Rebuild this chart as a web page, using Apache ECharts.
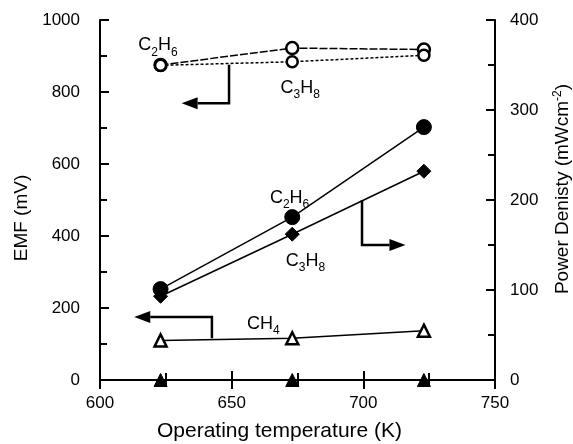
<!DOCTYPE html>
<html><head><meta charset="utf-8">
<script src="https://cdn.jsdelivr.net/npm/echarts@6/dist/echarts.min.js"></script>
<style>html,body{margin:0;padding:0;background:#fff}#c{width:573px;height:444px}</style>
</head><body><div id="c"></div>
<script>
const temps = [623, 673, 723];
const emfC2H6 = [875, 922, 918];
const emfC3H8 = [874, 884, 902];
const emfCH4 = [110, 116, 137];
const pdC2H6 = [101, 181, 281];
const pdC3H8 = [93, 162, 232];
const pdCH4 = [0, 0, 0];
const xTicks = [600, 650, 700, 750];
const emfTicks = [0, 200, 400, 600, 800, 1000];
const pdTicks = [0, 100, 200, 300, 400];

const F = 'Liberation Sans, Arial, Helvetica, sans-serif';
const TF = 17, NF = 19;
const pair = (xs, ys) => xs.map((x, i) => [x, ys[i]]);
const chart = echarts.init(document.getElementById('c'), null, {renderer: 'canvas'});

const axisBase = {
  axisLine: {show: true, lineStyle: {color: '#000', width: 2}},
  axisTick: {show: true, inside: true, length: 9, lineStyle: {color: '#000', width: 2}},
  minorTick: {show: true, splitNumber: 2, length: 7, lineStyle: {color: '#000', width: 2}},
  splitLine: {show: false}
};
const lab = (margin) => ({color: '#000', fontSize: TF, fontFamily: F, margin, formatter: v => String(v)});

function ser(name, data, yIdx, symbol, filled, size, lineType) {
  return {
    name, type: 'line', yAxisIndex: yIdx, data, symbol, symbolSize: size,
    showSymbol: true, clip: false, z: 5,
    lineStyle: {color: '#000', width: 1.5, type: lineType || 'solid'},
    itemStyle: {color: filled ? '#000' : '#fff', borderColor: '#000', borderWidth: filled ? 1 : 2.5}
  };
}

const option = {
  animation: false,
  backgroundColor: '#fff',
  grid: {left: 100, right: 78, top: 20, bottom: 64, containLabel: false, outerBoundsMode: 'none'},
  xAxis: [
    Object.assign({}, axisBase, {
      type: 'value', min: xTicks[0], max: xTicks[xTicks.length - 1], interval: 50,
      name: 'Operating temperature (K)', nameLocation: 'middle', nameGap: 41,
      nameTextStyle: {color: '#000', fontSize: 21, fontFamily: F, padding: [0, 36, 0, 0]},
      axisLabel: lab(15)
    }),
    Object.assign({}, axisBase, {
      type: 'value', position: 'top', min: 600, max: 750, interval: 50,
      axisLabel: {show: false}
    })
  ],
  yAxis: [
    Object.assign({}, axisBase, {
      type: 'value', min: emfTicks[0], max: emfTicks[emfTicks.length - 1], interval: 200,
      name: 'EMF (mV)', nameLocation: 'middle', nameGap: 66,
      nameTextStyle: {color: '#000', fontSize: NF, fontFamily: F, padding: [0, 36, 0, 0]},
      axisLabel: lab(20)
    }),
    Object.assign({}, axisBase, {
      type: 'value', position: 'right', min: pdTicks[0], max: pdTicks[pdTicks.length - 1], interval: 100,
      name: '{a|Power Denisty (mWcm}{s|-2}{a|)}', nameLocation: 'middle', nameGap: 57, nameRotate: 90,
      nameTextStyle: {color: '#000', fontSize: NF, fontFamily: F, padding: [0, 0, 0, 22],
        rich: {a: {fontSize: NF, fontFamily: F, color: '#000', lineHeight: 22},
               s: {fontSize: 12, fontFamily: F, color: '#000', verticalAlign: 'top', lineHeight: 22, padding: [0, 0, 8, 0]}}},
      axisLabel: lab(15)
    })
  ],
  series: [
    ser('EMF C2H6', pair(temps, emfC2H6), 0, 'circle', false, 12, [8, 2]),
    ser('EMF C3H8', pair(temps, emfC3H8), 0, 'circle', false, 11, [3, 2]),
    ser('EMF CH4', pair(temps, emfCH4), 0, 'triangle', false, 12, 'solid'),
    ser('PD C2H6', pair(temps, pdC2H6), 1, 'circle', true, 15, 'solid'),
    ser('PD C3H8', pair(temps, pdC3H8), 1, 'diamond', true, 14, 'solid'),
    Object.assign(ser('PD CH4', pair(temps, pdCH4), 1, 'triangle', true, 13, 'solid'), {lineStyle: {width: 0, opacity: 0}})
  ]
};
chart.setOption(option);

// annotations placed through the axes
const P = (x, y, yi) => chart.convertToPixel({xAxisIndex: 0, yAxisIndex: yi}, [x, y]);
const rich = {
  a: {fontSize: 18, fontFamily: F, color: '#000', lineHeight: 20, verticalAlign: 'bottom'},
  s: {fontSize: 12, fontFamily: F, color: '#000', lineHeight: 14, verticalAlign: 'bottom', padding: [0, 0, -4, 0]}
};
function label(txt, x, y, yi) {
  const p = P(x, y, yi);
  return {type: 'text', x: p[0], y: p[1], z: 20,
    style: {text: txt, rich, textAlign: 'center', textVerticalAlign: 'middle', fill: '#000'}};
}
function arrow(pts, yi) {
  const px = pts.map(q => P(q[0], q[1], yi));
  const n = px.length, a = px[n - 2], b = px[n - 1];
  const dx = b[0] - a[0], dy = b[1] - a[1], L = Math.hypot(dx, dy);
  const ux = dx / L, uy = dy / L, hl = 16, hw = 6;
  const base = [b[0] - ux * hl, b[1] - uy * hl];
  const line = px.slice(0, n - 1).concat([base]);
  return [
    {type: 'polyline', z: 20, shape: {points: line}, style: {stroke: '#000', lineWidth: 2.5, fill: null}},
    {type: 'polygon', z: 20, shape: {points: [b, [base[0] - uy * hw, base[1] + ux * hw], [base[0] + uy * hw, base[1] - ux * hw]]},
      style: {fill: '#000'}}
  ];
}
const graphics = [
  label('{a|C}{s|2}{a|H}{s|6}', 622, 932, 0),
  label('{a|C}{s|3}{a|H}{s|8}', 676, 815, 0),
  label('{a|C}{s|2}{a|H}{s|6}', 672, 508, 0),
  label('{a|C}{s|3}{a|H}{s|8}', 678, 333, 0),
  label('{a|CH}{s|4}', 662, 158, 0),
  ...arrow([[649, 876], [649, 769], [631, 769]], 0),
  ...arrow([[699.5, 200], [699.5, 150], [716, 150]], 1),
  ...arrow([[642.5, 116], [642.5, 175], [613, 175]], 0)
];
chart.setOption({graphic: graphics});
</script></body></html>
